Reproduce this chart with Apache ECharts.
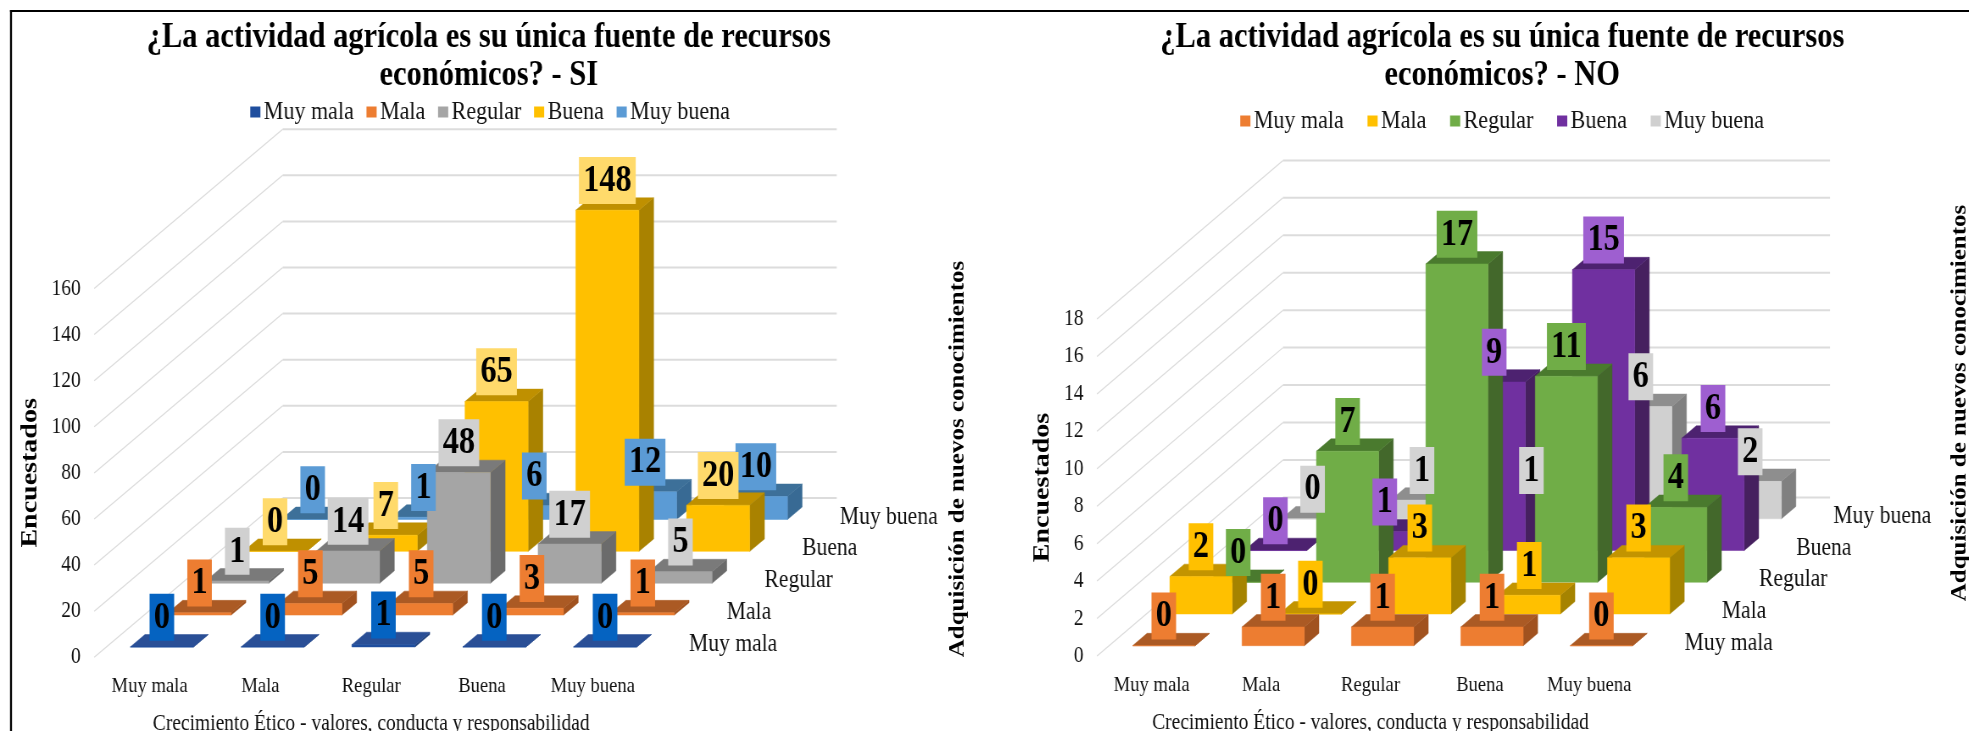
<!DOCTYPE html>
<html><head><meta charset="utf-8">
<style>
html,body{margin:0;padding:0;background:#fff;width:1969px;height:731px;overflow:hidden}
.panel{position:absolute;top:0;height:731px;transform-origin:0 0}
</style>
<script src="https://cdn.jsdelivr.net/npm/echarts@6/dist/echarts.min.js"></script>
</head><body>
<div id="si" class="panel"></div>
<div id="no" class="panel"></div>
<script>
// ---- data ----
const categories = ['Muy mala','Mala','Regular','Buena','Muy buena'];
const rowNames   = ['Muy mala','Mala','Regular','Buena','Muy buena'];

const siMuyMala  = [0,0,1,0,0];
const siMala     = [1,5,5,3,1];
const siRegular  = [1,14,48,17,5];
const siBuena    = [0,7,65,148,20];
const siMuyBuena = [0,1,6,12,10];

const noMuyMala  = [0,1,1,1,0];
const noMala     = [2,0,3,1,3];
const noRegular  = [0,7,17,11,4];
const noBuena    = [0,1,9,15,6];
const noMuyBuena = [0,1,1,6,2];

const siTicks = [0,20,40,60,80,100,120,140,160];
const noTicks = [0,2,4,6,8,10,12,14,16,18];

const siTitle = '¿La actividad agrícola es su única fuente de recursos\neconómicos? - SI';
const noTitle = '¿La actividad agrícola es su única fuente de recursos\neconómicos? - NO';
const xName = 'Crecimiento Ético - valores, conducta y responsabilidad';
const yName = 'Encuestados';
const zName = 'Adquisición de nuevos conocimientos';

// front, top, side, label
const siColors = [
  ['#1f4e9e','#2a4f96','#23447f','#0563c1'],
  ['#ed7d31','#ab5a24','#a1521f','#ed7d31'],
  ['#a5a5a5','#7a7a7a','#6b6b6b','#d0d0d0'],
  ['#ffc000','#bf9000','#a98200','#ffda6b'],
  ['#5b9bd5','#3d7099','#386a94','#5b9bd5']
];
const noColors = [
  ['#ed7d31','#ab5a24','#a1521f','#ed7d31'],
  ['#ffc000','#c39400','#a58300','#ffc000'],
  ['#70ad47','#4a7a2e','#43682b','#70ad47'],
  ['#7030a0','#4d2270','#46205f','#9e5fd0'],
  ['#d0d0d0','#8e8e8e','#808080','#d3d3d3']
];

// ---- layout ----
const K = 1.18;                 // the picture is squeezed horizontally by this factor
const FONT = '"Liberation Serif","Times New Roman",serif';
const panelW = 985;

function build(id, offset, o){
  const el = document.getElementById(id);
  el.style.left = offset + 'px';
  el.style.width = (panelW*K) + 'px';
  el.style.transform = 'scaleX(' + (1/K) + ')';
  const chart = echarts.init(el, null, {renderer:'canvas', width:panelW*K, height:731, devicePixelRatio:1});
  const X = v => (v-offset)*K;
  const dxAll = o.dx*K, dyAll = o.dy;
  const depth = r => (r+0.5)*0.2 - 0.035;
  const barDepth = 0.078;
  const barFrac = 0.57;

  const series = [];
  // walls: side diagonals and back wall grid
  series.push({
    type:'custom', name:'walls', coordinateSystem:'cartesian2d', z:1, silent:true, animation:false,
    data:o.ticks.map(t=>[0,t]),
    renderItem(params, api){
      const cs = params.coordSys;
      const y = api.coord([0,api.value(1)])[1];
      return {type:'group',children:[
        {type:'line',shape:{x1:cs.x,y1:y,x2:cs.x+dxAll,y2:y-dyAll},style:{stroke:'#dcdcdc',lineWidth:1.2}},
        {type:'line',shape:{x1:cs.x+dxAll,y1:y-dyAll,x2:cs.x+cs.width+dxAll,y2:y-dyAll},style:{stroke:'#dcdcdc',lineWidth:2}}
      ]};
    }
  });
  // depth-axis labels
  series.push({
    type:'custom', name:'depth', coordinateSystem:'cartesian2d', z:1, silent:true, animation:false,
    data:rowNames.map((n,r)=>[r,0]),
    renderItem(params, api){
      const cs = params.coordSys, r = api.value(0), d=(r+0.5)*0.2;
      return {type:'text',style:{
        text:rowNames[r], x:cs.x+cs.width+22*K+d*dxAll, y:cs.y+cs.height-d*dyAll+3,
        align:'left', verticalAlign:'middle', fill:'#111', font:'25.5px '+FONT}};
    }
  });
  // bars: one series per row, back rows under front rows
  o.rows.forEach((vals,r)=>{
    const c = o.colors[r];
    series.push({
      type:'custom', name:rowNames[r], coordinateSystem:'cartesian2d', z:10-r, silent:true, animation:false,
      itemStyle:{color:c[0]},
      data:vals.map((v,i)=>[i,v]),
      renderItem(params, api){
        const i=api.value(0), v=api.value(1);
        const top=api.coord([i,v]), base=api.coord([i,0]);
        const w=api.size([1,0])[0]*barFrac;
        const d0=depth(r), dd=barDepth;
        const xl=top[0]+d0*dxAll-w/2, xr=xl+w;
        const yb=base[1]-d0*dyAll, yt=top[1]-d0*dyAll;
        const ox=dd*dxAll, oy=dd*dyAll;
        const poly=(pts,fill)=>({type:'polygon',shape:{points:pts},style:{fill:fill,stroke:fill,lineWidth:0.5}});
        return {type:'group',children:[
          poly([[xr,yb],[xr+ox,yb-oy],[xr+ox,yt-oy],[xr,yt]],c[2]),
          poly([[xl,yt],[xr,yt],[xr+ox,yt-oy],[xl+ox,yt-oy]],c[1]),
          poly([[xl,yb],[xr,yb],[xr,yt],[xl,yt]],c[0])
        ]};
      }
    });
  });
  // value labels, above every bar
  o.rows.forEach((vals,r)=>{
    const c = o.colors[r];
    series.push({
      type:'custom', name:'label '+r, coordinateSystem:'cartesian2d', z:30-r, silent:true, animation:false,
      data:vals.map((v,i)=>[i,v]),
      renderItem(params, api){
        const i=api.value(0), v=api.value(1);
        const top=api.coord([i,v]);
        const d0=depth(r);
        return {type:'text',style:{
          text:String(v), x:top[0]+d0*dxAll, y:top[1]-d0*dyAll-barDepth*dyAll/2,
          align:'center', verticalAlign:'bottom',
          font:'bold 38px '+FONT, fill:'#000', lineHeight:38,
          backgroundColor:c[3], padding:[5,5,4,5]}};
      }
    });
  });

  chart.setOption({
    animation:false,
    backgroundColor:'#fff',
    title:{text:o.title,left:X(o.titleX),top:14,textAlign:'center',
      textStyle:{fontFamily:FONT,fontWeight:'bold',fontSize:36,lineHeight:38,color:'#000'}},
    legend:{data:rowNames.map(n=>({name:n,icon:'rect'})),left:X(o.legendX),top:o.legendY,
      itemWidth:12,itemHeight:11,itemGap:o.legendGap,selectedMode:false,
      textStyle:{fontFamily:FONT,fontSize:26,color:'#111',padding:[0,0,0,-1]}},
    grid:{left:X(o.x0),width:o.w*K,top:o.y1,height:o.y0-o.y1,containLabel:false,outerBoundsMode:'none'},
    xAxis:{type:'category',data:categories,boundaryGap:true,
      axisLine:{show:false},axisTick:{show:false},splitLine:{show:false},
      axisLabel:{fontFamily:FONT,fontSize:22,color:'#111',margin:18,interval:0},
      name:xName,nameLocation:'middle',nameGap:55,
      nameTextStyle:{fontFamily:FONT,fontSize:23,color:'#111'}},
    yAxis:{type:'value',min:0,max:o.ticks[o.ticks.length-1],interval:o.ticks[1],
      axisLine:{show:false},axisTick:{show:false},splitLine:{show:false},
      axisLabel:{fontFamily:FONT,fontSize:23,color:'#111',margin:16},
      name:yName,nameLocation:'middle',nameGap:o.yGap,nameRotate:90,
      nameTextStyle:{fontFamily:FONT,fontSize:28,fontWeight:'bold',color:'#000'}},
    graphic:{elements:[
      {type:'text',rotation:Math.PI/2,x:X(o.zX),y:o.zY,silent:true,
        style:{text:zName,align:'center',verticalAlign:'middle',fill:'#000',font:'bold 25px '+FONT}},
      ...o.frame.map(f=>({type:'rect',silent:true,shape:{x:X(f[0]),y:f[1],width:f[2]*K,height:f[3]},style:{fill:'#000'}}))
    ]},
    series:series
  });
}

build('si',0,{
  rows:[siMuyMala,siMala,siRegular,siBuena,siMuyBuena], colors:siColors, ticks:siTicks, title:siTitle,
  titleX:484.5, legendX:246, legendY:94, legendGap:15,
  x0:94.2, w:554, y0:657.3, y1:288.5, dx:188.5, dy:159.3, yGap:58, zX:958, zY:459,
  frame:[[10,10,2,721],[10,10,975,2]]
});
build('no',985,{
  rows:[noMuyMala,noMala,noRegular,noBuena,noMuyBuena], colors:noColors, ticks:noTicks, title:noTitle,
  titleX:1498, legendX:1236, legendY:103, legendGap:28,
  x0:1097, w:547, y0:656, y1:319, dx:186, dy:158.6, yGap:49, zX:1960, zY:403,
  frame:[[985,10,984,2]]
});
</script>
</body></html>
